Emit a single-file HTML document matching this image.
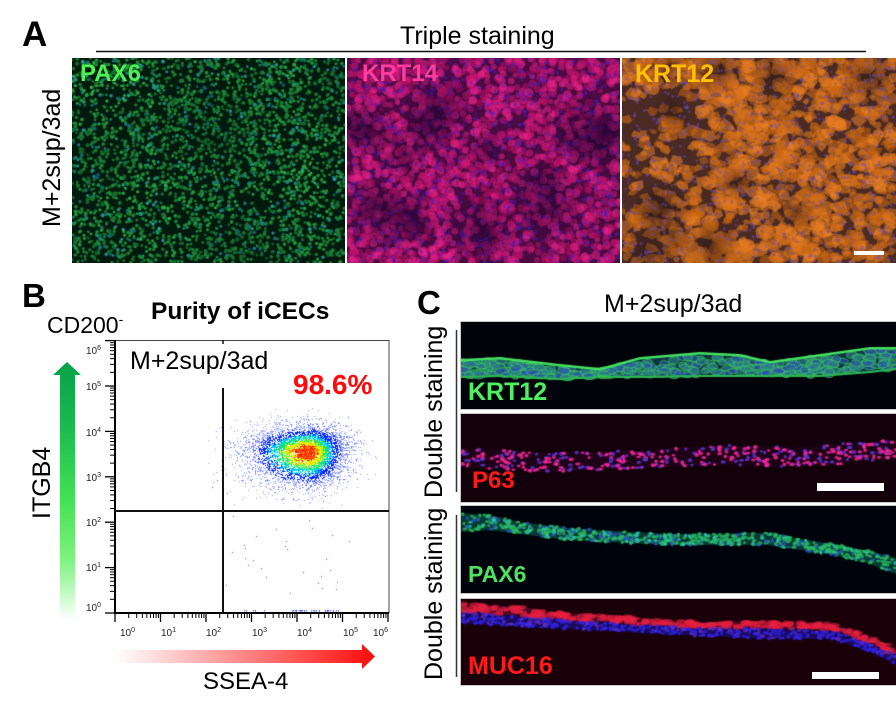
<!DOCTYPE html>
<html><head><meta charset="utf-8">
<style>
html,body{margin:0;padding:0;background:#fff}
body{width:896px;height:711px;position:relative;overflow:hidden;font-family:"Liberation Sans",Arial,sans-serif;color:#000}
.t{position:absolute;white-space:nowrap;line-height:1}
.b{font-weight:bold}
.r{transform-origin:0 0;transform:rotate(-90deg)}
canvas{position:absolute;display:block}
.tk{position:absolute;font-size:10px;line-height:1;color:#222;white-space:nowrap}
.tk span{font-size:7px;position:relative;top:-4px}
.wb{position:absolute;background:#fff}
</style></head><body>

<canvas id="a1" width="273" height="205" style="left:72px;top:58px;background:#0a4424"></canvas>
<canvas id="a2" width="273" height="205" style="left:347px;top:58px;background:#9a1066"></canvas>
<canvas id="a3" width="274" height="205" style="left:622px;top:58px;background:#b0601c"></canvas>

<canvas id="c1" width="435" height="87" style="left:461px;top:322px;background:#00030a;box-shadow:0 0 0 1px #c8c8c8"></canvas>
<canvas id="c2" width="435" height="88" style="left:461px;top:414px;background:#13000b;box-shadow:0 0 0 1px #c8c8c8"></canvas>
<canvas id="c3" width="435" height="87" style="left:461px;top:506px;background:#00030b;box-shadow:0 0 0 1px #c8c8c8"></canvas>
<canvas id="c4" width="435" height="86" style="left:461px;top:599px;background:#1a0008;box-shadow:0 0 0 1px #c8c8c8"></canvas>

<canvas id="sc" width="275" height="274" style="left:115px;top:340px"></canvas>

<svg width="896" height="711" style="position:absolute;left:0;top:0">
<defs>
<linearGradient id="gg" gradientUnits="userSpaceOnUse" x1="0" y1="362" x2="0" y2="620">
<stop offset="0" stop-color="#05a048"/>
<stop offset="0.27" stop-color="#1dbd50"/>
<stop offset="0.54" stop-color="#45e255"/>
<stop offset="0.77" stop-color="#80f280"/>
<stop offset="0.92" stop-color="#d2fbd2"/>
<stop offset="1" stop-color="#ffffff"/>
</linearGradient>
<linearGradient id="rg" gradientUnits="userSpaceOnUse" x1="115" y1="0" x2="375" y2="0">
<stop offset="0" stop-color="#ffffff"/>
<stop offset="0.18" stop-color="#ffd6d6"/>
<stop offset="0.48" stop-color="#ff8a8a"/>
<stop offset="0.78" stop-color="#ff4040"/>
<stop offset="1" stop-color="#ff0a0a"/>
</linearGradient>
</defs>
<line x1="96" y1="51.5" x2="866" y2="51.5" stroke="#111" stroke-width="1.4"/>
<polygon points="60,375 53,375 67,362 81,375 75,375 75,620 60,620" fill="url(#gg)"/>
<polygon points="115,650 362,650 362,644 375,656.5 362,669 362,663 115,663" fill="url(#rg)"/>
<line x1="115" y1="340.5" x2="389" y2="340.5" stroke="#444" stroke-width="1"/>
<line x1="389" y1="340" x2="389" y2="613" stroke="#444" stroke-width="1"/>
<line x1="115" y1="340" x2="115" y2="614" stroke="#000" stroke-width="2"/>
<line x1="114" y1="613" x2="389" y2="613" stroke="#000" stroke-width="2"/>
<line x1="223" y1="388" x2="223" y2="613" stroke="#111" stroke-width="2"/>
<line x1="223" y1="340" x2="223" y2="344" stroke="#111" stroke-width="1.5"/>
<line x1="115" y1="511" x2="389" y2="511" stroke="#111" stroke-width="2"/>
<line x1="456.5" y1="330" x2="456.5" y2="492" stroke="#333" stroke-width="1.5"/>
<line x1="456.5" y1="515" x2="456.5" y2="677" stroke="#333" stroke-width="1.5"/>
</svg>
<div id="tk"></div>

<div class="wb" style="left:854px;top:251px;width:30px;height:4px"></div>
<div class="wb" style="left:817px;top:483px;width:67px;height:8px"></div>
<div class="wb" style="left:812px;top:672px;width:67px;height:7px"></div>

<div class="t b" style="left:22px;top:17px;font-size:35px">A</div>
<div class="t b" style="left:22px;top:279px;font-size:33px">B</div>
<div class="t b" style="left:417px;top:286px;font-size:33px">C</div>

<div class="t" style="left:400px;top:24px;font-size:25px">Triple staining</div>
<div class="t r" style="left:40px;top:227px;font-size:25px">M+2sup/3ad</div>

<div class="t b" style="left:80px;top:62px;font-size:24px;color:#50f055">PAX6</div>
<div class="t b" style="left:362px;top:62px;font-size:24px;color:#ff3c9c">KRT14</div>
<div class="t b" style="left:635px;top:62px;font-size:25px;color:#ffc000">KRT12</div>

<div class="t" style="left:47px;top:313.5px;font-size:23px">CD200<span style="font-size:14px;position:relative;top:-9px">-</span></div>
<div class="t b" style="left:151px;top:300px;font-size:24.5px">Purity of iCECs</div>
<div class="t" style="left:130px;top:349px;font-size:25px">M+2sup/3ad</div>
<div class="t b" style="left:293px;top:371px;font-size:28px;color:#ff0a0a">98.6%</div>
<div class="t r" style="left:30px;top:519px;font-size:25px">ITGB4</div>
<div class="t" style="left:203px;top:670px;font-size:24px">SSEA-4</div>

<div class="tk" style="left:86px;top:346.5px">10<span>6</span></div>
<div class="tk" style="left:86px;top:382.5px">10<span>5</span></div>
<div class="tk" style="left:86px;top:428.5px">10<span>4</span></div>
<div class="tk" style="left:86px;top:473.5px">10<span>3</span></div>
<div class="tk" style="left:86px;top:518.5px">10<span>2</span></div>
<div class="tk" style="left:86px;top:563.5px">10<span>1</span></div>
<div class="tk" style="left:86px;top:603.5px">10<span>0</span></div>

<div class="tk" style="left:120px;top:628.5px">10<span>0</span></div>
<div class="tk" style="left:161px;top:628.5px">10<span>1</span></div>
<div class="tk" style="left:206px;top:628.5px">10<span>2</span></div>
<div class="tk" style="left:252px;top:628.5px">10<span>3</span></div>
<div class="tk" style="left:297px;top:628.5px">10<span>4</span></div>
<div class="tk" style="left:343px;top:628.5px">10<span>5</span></div>
<div class="tk" style="left:373px;top:628.5px">10<span>6</span></div>

<div class="t" style="left:604px;top:292px;font-size:25px">M+2sup/3ad</div>
<div class="t r" style="left:422px;top:498px;font-size:25px">Double staining</div>
<div class="t r" style="left:422px;top:680px;font-size:25px">Double staining</div>
<div class="t b" style="left:468px;top:380px;font-size:25px;color:#4ef060">KRT12</div>
<div class="t b" style="left:472px;top:469px;font-size:24px;color:#ff1a1a">P63</div>
<div class="t b" style="left:468px;top:562.5px;font-size:23px;color:#50e060">PAX6</div>
<div class="t b" style="left:468px;top:654px;font-size:25px;color:#ff1a1a">MUC16</div>

<script>
function R(seed){let s=seed>>>0||1;return function(){s^=s<<13;s>>>=0;s^=s>>>17;s^=s<<5;s>>>=0;return s/4294967296;};}
function G(r){let u=r();if(u<1e-9)u=1e-9;return Math.sqrt(-2*Math.log(u))*Math.cos(6.2831853*r());}
function C(id){const c=document.getElementById(id);return [c.getContext('2d'),c.width,c.height];}
function LP(P,X){if(X<=P[0][0])return P[0].slice(1);for(let i=0;i<P.length-1;i++){if(X<=P[i+1][0]){const t=(X-P[i][0])/(P[i+1][0]-P[i][0]);return P[i].slice(1).map((v,k)=>v+(P[i+1][k+1]-v)*t);}}return P[P.length-1].slice(1);}
function loc(P,L,T){return P.map(p=>[p[0]-L].concat(p.slice(1).map(v=>v-T)));}

(function(){let s='<svg width="896" height="711" style="position:absolute;left:0;top:0">';
for(let k=0;k<=6;k++){const y=613-45.4*k,X=115+45.5*k;
s+='<line x1="105" y1="'+y+'" x2="115" y2="'+y+'" stroke="#000" stroke-width="1.3"/>';
s+='<line x1="'+X+'" y1="613" x2="'+X+'" y2="622" stroke="#000" stroke-width="1.3"/>';
if(k<6)for(let j=2;j<10;j++){const f=Math.log10(j),yy=y-45.4*f,xx=X+45.5*f;
s+='<line x1="110" y1="'+yy+'" x2="115" y2="'+yy+'" stroke="#000" stroke-width="1"/>';
s+='<line x1="'+xx+'" y1="613" x2="'+xx+'" y2="618" stroke="#000" stroke-width="1"/>';}}
s+='</svg>';document.getElementById('tk').innerHTML=s;})();

/* A1 PAX6 */
(function(){const [x,W,H]=C('a1'),r=R(11);
x.fillStyle='#021a0e';x.fillRect(0,0,W,H);
for(let i=0;i<3200;i++){const px=r()*W,py=r()*H;
const m=0.8+0.2*Math.sin(px/40+py/55)*Math.cos(py/35-px/70);
const b=(0.35+0.65*r())*m;const cy=r()<0.12;
x.fillStyle='rgb('+((8+35*b)|0)+','+((60+115*b)|0)+','+((cy?90+70*b:30+40*b)|0)+')';
x.beginPath();x.arc(px,py,1.3+r()*0.7,0,6.283);x.fill();}})();

/* A2 KRT14 */
(function(){const [x,W,H]=C('a2'),r=R(23);
x.fillStyle='#4a0a42';x.fillRect(0,0,W,H);
for(let i=0;i<1900;i++){const px=r()*W,py=r()*H,b=r();
x.globalAlpha=0.5;x.fillStyle='rgb('+((170+85*b)|0)+','+((10+30*b)|0)+','+((90+60*b)|0)+')';
x.beginPath();x.arc(px,py,2.5+r()*2,0,6.283);x.fill();}
for(let i=0;i<900;i++){x.globalAlpha=0.5;x.fillStyle='rgb(80,30,190)';x.beginPath();x.arc(r()*W,r()*H,1.2+r()*0.9,0,6.283);x.fill();}
for(let i=0;i<16;i++){const px=r()*W,py=r()*H,rad=15+r()*25;const g=x.createRadialGradient(px,py,0,px,py,rad);g.addColorStop(0,'rgba(25,0,45,0.5)');g.addColorStop(1,'rgba(25,0,45,0)');x.globalAlpha=1;x.fillStyle=g;x.fillRect(px-rad,py-rad,rad*2,rad*2);}
x.globalAlpha=1;})();

/* A3 KRT12 */
(function(){const [x,W,H]=C('a3'),r=R(37);
x.fillStyle='#4a2a22';x.fillRect(0,0,W,H);
for(let i=0;i<1400;i++){const px=r()*W,py=r()*H;
if(px<90&&py>30&&py<150&&r()<0.55)continue;
if(px<40&&py>150&&r()<0.5)continue;
const b=r(),n=5+((r()*3)|0),rad=3+r()*6;
x.globalAlpha=0.55;x.fillStyle='rgb('+((190+55*b)|0)+','+((95+40*b)|0)+','+((15+25*b)|0)+')';
x.beginPath();for(let k=0;k<n;k++){const a=k/n*6.283+r()*0.6,rr=rad*(0.6+0.5*r());const qx=px+Math.cos(a)*rr*1.2,qy=py+Math.sin(a)*rr;k?x.lineTo(qx,qy):x.moveTo(qx,qy);}x.closePath();x.fill();}
for(let i=0;i<12;i++){const px=r()*W,py=r()*H,rad=12+r()*20;const g=x.createRadialGradient(px,py,0,px,py,rad);g.addColorStop(0,'rgba(30,15,25,0.45)');g.addColorStop(1,'rgba(30,15,25,0)');x.globalAlpha=1;x.fillStyle=g;x.fillRect(px-rad,py-rad,rad*2,rad*2);}
for(let i=0;i<900;i++){x.globalAlpha=0.5;x.fillStyle='rgb(105,75,190)';x.beginPath();x.arc(r()*W,r()*H,1.1+r()*0.6,0,6.283);x.fill();}
x.globalAlpha=1;})();

/* C1 KRT12 section */
(function(){const L=461,T=322,[x,W,H]=C('c1'),r=R(41);
x.fillStyle='#00030a';x.fillRect(0,0,W,H);
const P=loc([[461,360,378],[500,358,377],[560,365,380],[600,369,378],[640,358,378],[700,353,377],[740,355,377],[770,362,377],[820,355,377],[870,348,373],[896,348,370]],L,T);
for(let X=0;X<W;X++){const [t,b]=LP(P,X+.5);x.fillStyle='#0c3446';x.fillRect(X,t,1,b-t);}
for(let i=0;i<320;i++){const X=r()*W,[t,b]=LP(P,X),Y=t+2+r()*Math.max(0,b-t-4);
x.globalAlpha=.65;x.fillStyle=r()<.5?'#2a50b0':'#2a7a8a';x.strokeStyle='rgba(60,210,80,0.85)';x.lineWidth=1;
x.beginPath();x.ellipse(X,Y,4+r()*3,2.2+r()*1.6,(r()-.5)*0.4,0,6.283);x.fill();x.globalAlpha=.8;x.stroke();}
x.globalAlpha=1;
for(let X=0;X<W;X++){const [t,b]=LP(P,X+.5);x.fillStyle='#45e060';x.fillRect(X,t-1,1,2.5);x.fillStyle='#2cb850';x.fillRect(X,b-2,1,2);}})();

/* C2 P63 */
(function(){const L=461,T=414,[x,W,H]=C('c2'),r=R(53);
x.fillStyle='#12000a';x.fillRect(0,0,W,H);
const P=loc([[461,448,467],[550,453,472],[640,450,468],[720,445,465],[800,447,467],[850,443,463],[896,440,460]],L,T);
for(let X=0;X<W;X++){const [t,b]=LP(P,X+.5);x.fillStyle='#1e0218';x.fillRect(X,t,1,b-t);}
for(let i=0;i<380;i++){const X=r()*W,[t,b]=LP(P,X),Y=t+r()*(b-t),q=r();x.globalAlpha=.85;x.fillStyle=q<.6?'#f02896':'#6030c8';x.beginPath();x.ellipse(X,Y,1.6+r()*1.1,1.2+r()*0.8,0,0,6.283);x.fill();}
x.globalAlpha=1;})();

/* C3 PAX6 section */
(function(){const L=461,T=506,[x,W,H]=C('c3'),r=R(67);
x.fillStyle='#00030b';x.fillRect(0,0,W,H);
const P=loc([[461,513,532],[490,515,530],[520,522,534],[567,528,540],[667,534,545],[767,533,545],[833,544,555],[870,551,564],[896,558,574]],L,T);
for(let X=0;X<W;X++){const [t,b]=LP(P,X+.5);x.fillStyle='#073a32';x.fillRect(X,t,1,b-t);}
for(let i=0;i<650;i++){const X=r()*W,[t,b]=LP(P,X),Y=t+r()*(b-t),q=r();x.globalAlpha=.8;x.fillStyle=q<.6?'#28b860':(q<.8?'#30c8b0':'#2858b8');x.beginPath();x.ellipse(X,Y,1.4+r()*1.2,1.2+r()*0.8,0,0,6.283);x.fill();}
x.globalAlpha=1;})();

/* C4 MUC16 */
(function(){const L=461,T=599,[x,W,H]=C('c4'),r=R(79);
x.fillStyle='#1a0008';x.fillRect(0,0,W,H);
const P=loc([[461,603,612,623],[520,607,616,627],[567,613,620,629],[700,622,628,636],[767,621,628,639],[833,624,631,639],[870,636,643,652],[896,648,655,665]],L,T);
for(let X=0;X<W;X++){const [t,m,b]=LP(P,X+.5);x.fillStyle='#4a0a22';x.fillRect(X,t,1,m-t);x.fillStyle='#1a0a58';x.fillRect(X,m,1,b-m);}
for(let i=0;i<260;i++){const X=r()*W,[t,m,b]=LP(P,X),Y=t+r()*(m-t);x.globalAlpha=.6;x.fillStyle='#e82040';x.beginPath();x.ellipse(X,Y,3+r()*3,1.6+r()*1.2,0,0,6.283);x.fill();}
for(let i=0;i<450;i++){const X=r()*W,[t,m,b]=LP(P,X),Y=m+r()*(b-m);x.globalAlpha=.75;x.fillStyle=r()<.8?'#3022e0':'#6030c0';x.beginPath();x.ellipse(X,Y,1.5+r()*1,1.2+r()*0.7,0,0,6.283);x.fill();}
x.globalAlpha=1;})();

/* scatter */
(function(){const [x,W,H]=C('sc'),r=R(97);
const cx=308-115,cy=452-340;const pts=[];
for(let i=0;i<6000;i++){const gx=G(r),gy=G(r);const sx=gx<0?30:19,sy=gy<0?13:17;pts.push([cx+gx*sx,cy+gy*sy,Math.sqrt(gx*gx+gy*gy)]);}
pts.sort((a,b)=>b[2]-a[2]);
for(const p of pts){const d=p[2]+(r()-0.5)*0.3;let c,a=1;
if(d<0.5)c=r()<0.6?'#ff1800':'#ff8000';
else if(d<0.8)c=r()<0.5?'#ffe000':'#c0ff00';
else if(d<1.05)c=r()<0.5?'#30e030':'#00f080';
else if(d<1.3)c='#00c8ff';
else if(d<1.7)c='#0020ff';
else {c='#2040ff';a=0.55;}
x.globalAlpha=a;x.fillStyle=c;x.fillRect(p[0]|0,p[1]|0,1,1);}
x.globalAlpha=0.8;x.fillStyle='#1030ff';
for(let i=0;i<40;i++){x.fillRect((225+r()*125-115)|0,(400+r()*190-340)|0,1,1);}
const ex=[[217,480],[212,487],[232,552],[244,545],[245,558],[261,568],[266,577],[290,593],[322,588],[321,576],[330,570]];
for(const e of ex)x.fillRect(e[0]-115,e[1]-340,1,1);
for(let i=0;i<40;i++){const xx=r()<0.7?290+r()*50:240+r()*25;x.fillRect((xx-115)|0,270,1,1.5);}
x.globalAlpha=1;})();
</script>
</body></html>
